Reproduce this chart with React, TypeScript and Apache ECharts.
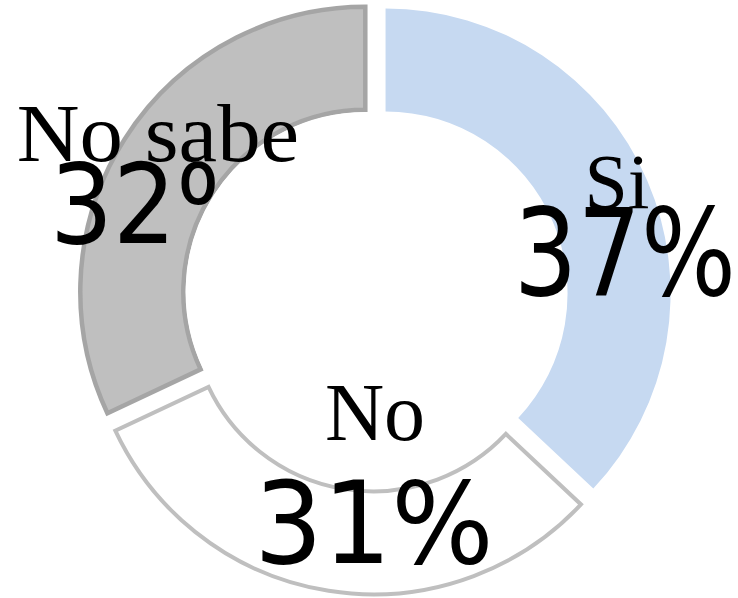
import React, { useEffect, useRef } from "react";
import * as echarts from "echarts";

const categories = ["Si", "No", "No sabe"];
const values = [37, 31, 32];
const percentLabels = ["37%", "31%", "32%"];

const CX = 375;
const CY = 298;
const R_IN = 182;
const R_OUT = 285;
const OFFSET = 11.5;

const fills = ["#c6d9f1", "#ffffff", "#bfbfbf"];
const borders = ["#c6d9f1", "#bfbfbf", "#a5a5a5"];
const borderWidths = [0, 4, 4.5];

export default function App() {
  const ref = useRef<HTMLDivElement>(null);
  useEffect(() => {
    document.body.style.margin = "0";
    if (!ref.current) return;
    const chart = echarts.init(ref.current, null, { renderer: "svg" });

    const total = values.reduce((a, b) => a + b, 0);
    let angle = 90;
    const centres: number[][] = [];
    values.forEach((v) => {
      const span = (v / total) * 360;
      const mid = angle - span / 2;
      const rad = (mid * Math.PI) / 180;
      centres.push([CX + OFFSET * Math.cos(rad), CY - OFFSET * Math.sin(rad)]);
      angle -= span;
    });
    const nsC = centres[2];

    const serif = "'Liberation Serif', 'Times New Roman', serif";
    const sans = "'DejaVu Sans', sans-serif";

    const txt = (
      text: string,
      x: number,
      y: number,
      size: number,
      family: string,
      scaleX: number,
      z: number
    ) => ({
      type: "text",
      x,
      y,
      scaleX,
      z,
      silent: true,
      style: {
        text,
        x: 0,
        y: 0,
        fill: "#000000",
        font: `${size}px ${family}`,
        textAlign: "center",
        textVerticalAlign: "middle",
        verticalAlign: "middle",
      },
    });

    chart.setOption({
      animation: false,
      backgroundColor: "#ffffff",
      series: [
        {
          type: "pie",
          center: [CX, CY],
          radius: [R_IN, R_OUT],
          startAngle: 90,
          clockwise: true,
          selectedMode: "multiple",
          selectedOffset: OFFSET,
          silent: true,
          avoidLabelOverlap: false,
          label: { show: false },
          labelLine: { show: false },
          emphasis: { disabled: true },
          data: categories.map((name, i) => {
            const st = {
              color: fills[i],
              borderColor: borders[i],
              borderWidth: borderWidths[i],
              borderJoin: "miter",
            };
            return {
              name,
              value: values[i],
              selected: true,
              itemStyle: st,
              select: { itemStyle: st },
            };
          }),
        },
      ],
      graphic: [
        txt(percentLabels[2], 160, 205, 110, sans, 0.9, 10),
        {
          type: "circle",
          z: 11,
          silent: true,
          shape: { cx: nsC[0], cy: nsC[1], r: R_IN - 2.5 },
          style: { fill: "#ffffff" },
        },
        txt(categories[2], 158, 133.5, 82, serif, 1.06, 12),
        txt(categories[0], 617, 181, 78, serif, 1, 12),
        txt(percentLabels[0], 625, 252.5, 122, sans, 0.82, 12),
        txt(categories[1], 375, 412.5, 82, serif, 1, 12),
        txt(percentLabels[1], 374, 523.5, 114, sans, 0.945, 12),
      ],
    });
    return () => chart.dispose();
  }, []);
  return <div ref={ref} style={{ width: 738, height: 598 }} />;
}
